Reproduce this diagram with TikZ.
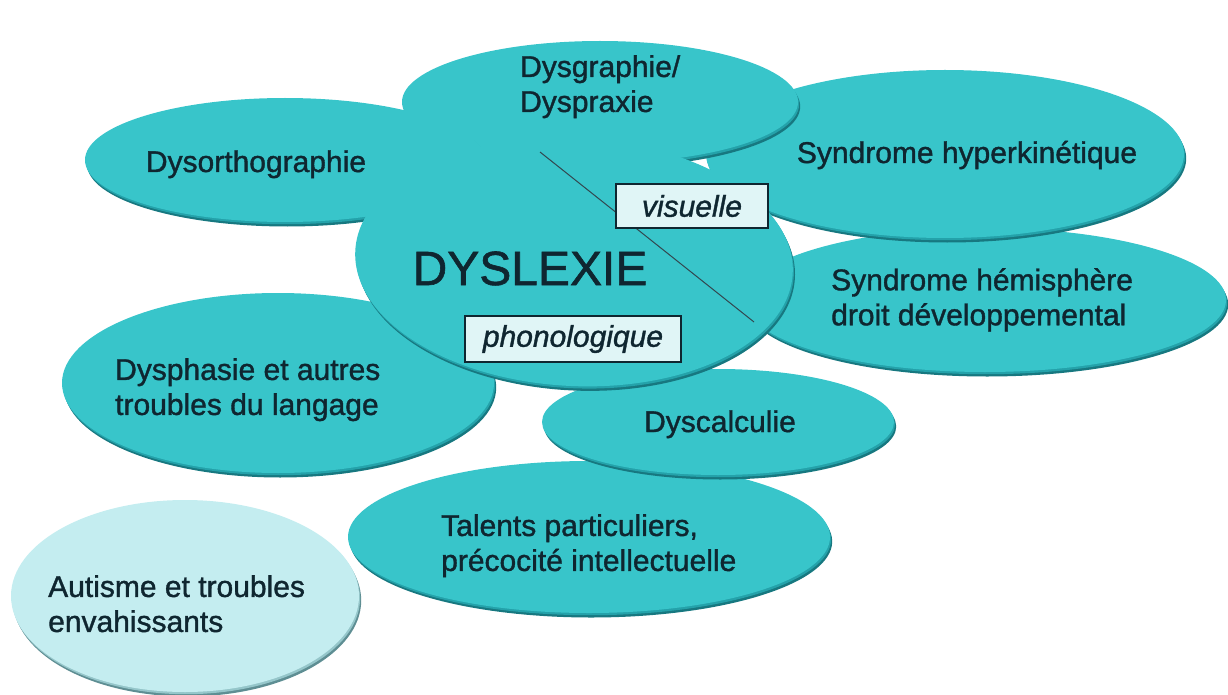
\documentclass[tikz,border=0pt]{standalone}
\usepackage{fontspec}
\setmainfont{Liberation Sans}
\newfontfamily\lblfont{Liberation Sans}[FakeBold=1.2]
\usetikzlibrary{shapes.geometric,shadows}
\definecolor{tealbody}{HTML}{38C5CA}
\definecolor{tealmid}{HTML}{24A2AA}
\definecolor{tealedge}{HTML}{177880}
\definecolor{lightbody}{HTML}{C4EDF0}
\definecolor{lightmid}{HTML}{95C6CA}
\definecolor{lightedge}{HTML}{5E8E93}
\definecolor{ink}{HTML}{0F2630}
\definecolor{boxfill}{HTML}{E0F5F6}
\begin{document}
\begin{tikzpicture}[x=1pt,y=-1pt,
  shape base/.style={ellipse, inner sep=0pt, draw=none},
  blob/.style={shape base, fill=tealbody,
    drop shadow={shadow xshift=2.2pt, shadow yshift=-4.5pt, fill=tealedge, opacity=1},
    drop shadow={shadow xshift=1.1pt, shadow yshift=-2.2pt, fill=tealmid, opacity=1}},
  lblob/.style={shape base, fill=lightbody,
    drop shadow={shadow xshift=2.2pt, shadow yshift=-4.5pt, fill=lightedge, opacity=1},
    drop shadow={shadow xshift=1.1pt, shadow yshift=-2.2pt, fill=lightmid, opacity=1}},
  sz/.style 2 args={minimum width=#1, minimum height=#2},
  lbl/.style={font=\lblfont\fontsize{30}{35}\selectfont, text=ink, inner sep=0pt, align=left},
  tagbox/.style={draw=ink, line width=1.2pt, fill=boxfill, inner sep=0pt,
    font=\lblfont\fontsize{30}{34}\selectfont\itshape, text=ink},
  divider/.style={draw=ink!85, line width=1pt}]
\useasboundingbox (0,0) rectangle (1228,695);

% ellipses, back to front
\node[blob, sz={482pt}{144pt}] (hemi) at (985,300) {};
\node[blob, sz={478pt}{168pt}] (hyper) at (945,154) {};
\node[blob, sz={396pt}{122pt}] (dysg) at (600,102) {};
\node[blob, sz={400pt}{124pt}] (dyso) at (285,160) {};
\node[blob, sz={432pt}{180pt}] (dysph) at (278,383) {};
\node[blob, sz={482pt}{152pt}] (talents) at (589,537) {};
\node[lblob, sz={348pt}{192pt}] (autism) at (185,596) {};
\node[blob, sz={352pt}{106pt}] (dyscalc) at (718,422) {};
\node[blob, sz={438pt}{248pt}, rotate=-3] (dyslexie) at (574,262) {};

% labels
\node[lbl, anchor=north west] (dysg-t) at (520,55) {Dysgraphie/\\Dyspraxie};
\node[lbl, anchor=base] (dyso-t) at (256,172) {Dysorthographie};
\node[lbl, anchor=base] (hyper-t) at (967,163) {Syndrome hyperkinétique};
\node[lbl, anchor=north west] (hemi-t) at (831,268) {Syndrome hémisphère\\droit développemental};
\node[lbl, anchor=north west] (dysph-t) at (115,358) {Dysphasie et autres\\troubles du langage};
\node[lbl, anchor=base] (dyscalc-t) at (720,432) {Dyscalculie};
\node[lbl, anchor=north west] (talents-t) at (441,514) {Talents particuliers,\\précocité intellectuelle};
\node[lbl, anchor=north west] (autism-t) at (48,575) {Autisme et troubles\\envahissants};

% centre
\coordinate (d1) at (540,152);
\coordinate (d2) at (754,322);
\draw[divider] (d1) -- (d2);
\node[font=\lblfont\fontsize{48}{48}\selectfont, text=ink, inner sep=0pt, anchor=base] (dyslexie-t) at (530,285) {DYSLEXIE};
\node[tagbox, minimum width=152pt, minimum height=44pt] (vis) at (692,206) {visuelle};
\node[tagbox, minimum width=216pt, minimum height=46pt] (phono) at (573,339) {phonologique};
\end{tikzpicture}
\end{document}
